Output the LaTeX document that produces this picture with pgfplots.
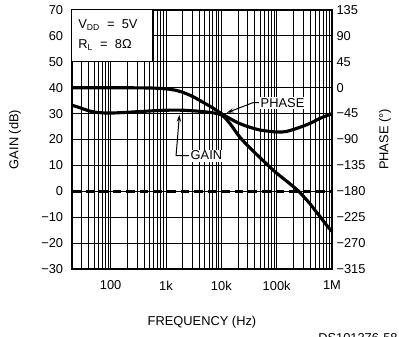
\documentclass[border=0pt]{standalone}
\usepackage{fontspec}
\setmainfont{Liberation Sans}
\usepackage{pgfplots}
\pgfplotsset{compat=1.18}
\usetikzlibrary{arrows.meta}
\pgfplotstableread{
f g
20 33.2
25 32.6
30 32.0
40 31.1
50 30.6
70 30.3
100 30.2
200 30.5
500 31.0
1000 31.3
2000 31.3
4000 30.9
6000 30.5
8000 30.1
10000 29.5
12000 28.1
15000 25.6
20000 21.8
25000 19.4
30000 17.6
40000 15.0
50000 13.0
70000 10.0
100000 7.0
150000 4.0
200000 1.8
250000 0.0
300000 -1.8
400000 -4.8
500000 -7.5
600000 -9.6
700000 -11.5
800000 -13.1
900000 -14.4
1000000 -15.5
}\gaindata
\pgfplotstableread{
f p
20 0
100 0
500 -0.5
1000 -2
1500 -4.5
2000 -8
3000 -15
5000 -27
7000 -35
10000 -45
14000 -53
20000 -61
30000 -67.5
50000 -73.5
100000 -77
150000 -76
250000 -69.5
400000 -62
600000 -53.5
1000000 -45
}\phasedata
\begin{document}
\fontsize{9}{11}\selectfont
\begin{tikzpicture}
\begin{axis}[
  at={(0,0)}, anchor=south west,
  scale only axis, width=182pt, height=181.3pt,
  xmode=log, xmin=20, xmax=1e6,
  major tick length=0pt, minor tick length=0pt,
  axis line style={line width=1pt},
  clip=false,
  ymin=-30, ymax=70,
  ytick={-30,-20,-10,0,10,20,30,40,50,60,70},
  yticklabels={−30,−20,−10,0,10,20,30,40,50,60,70},
  xtick={100,1000,10000,100000,1000000},
  xticklabels={100,1k,10k,100k,1M},
  minor xtick={20,30,40,50,60,70,80,90,200,300,400,500,600,700,800,900,2000,3000,4000,5000,6000,7000,8000,9000,20000,30000,40000,50000,60000,70000,80000,90000,200000,300000,400000,500000,600000,700000,800000,900000},
  xmajorgrids, xminorgrids, ymajorgrids,
  major grid style={black, line width=0.6pt},
  minor grid style={black, line width=0.6pt},
  yticklabel style={xshift=-3pt},
  xticklabel style={yshift=-5pt},
  xlabel={FREQUENCY (Hz)},
  xlabel style={at={(axis description cs:0.5,-0.205)}, anchor=center},
  ylabel={GAIN (dB)},
  ylabel style={at={(axis description cs:-0.219,0.5)}, anchor=center},
]
\addplot[black, line width=2pt, dash pattern=on 6pt off 3.5pt] coordinates {(20,0) (1000000,0)};
\addplot[black, line width=2.2pt, smooth] table[x=f, y=g] {\gaindata};
\draw[black, line width=0.7pt, fill=white] (axis cs:20,50) rectangle (axis cs:570,70);
\node[anchor=west, inner sep=0pt] at (axis cs:25.7,64.2) {V\textsubscript{DD}\ \ =\ \ 5V};
\node[anchor=west, inner sep=0pt] at (axis cs:25.7,56.5) {R\textsubscript{L}\ \ =\ \ 8Ω};
\draw[black, line width=0.7pt, -{Stealth[length=5pt,width=3pt]}] (axis cs:48000,34.2) -- (axis cs:37000,34.2) -- (axis cs:12500,30.3);
\node[anchor=west, fill=white, inner sep=1pt] at (axis cs:48000,34.2) {PHASE};
\draw[black, line width=0.7pt, -{Stealth[length=5pt,width=3pt]}] (axis cs:2600,13.8) -- (axis cs:1520,13.8) -- (axis cs:1750,29.6);
\node[anchor=west, fill=white, inner sep=1pt] at (axis cs:2600,13.8) {GAIN};
\end{axis}
\begin{axis}[
  at={(0,0)}, anchor=south west,
  scale only axis, width=182pt, height=181.3pt,
  xmode=log, xmin=20, xmax=1e6,
  major tick length=0pt, minor tick length=0pt,
  axis line style={line width=1pt},
  clip=false,
  hide x axis,
  axis y line*=right,
  ymin=-315, ymax=135,
  ytick={-315,-270,-225,-180,-135,-90,-45,0,45,90,135},
  yticklabels={−315,−270,−225,−180,−135,−90,−45,0,45,90,135},
  ylabel={PHASE (°)},
  ylabel style={at={(axis description cs:1.204,0.5)}, anchor=center},
]
\addplot[black, line width=2.2pt, smooth] table[x=f, y=p] {\phasedata};
\end{axis}
\node[anchor=north west, inner sep=0pt] at (172.2pt,-44.8pt) {DS101376-58};
\pgfresetboundingbox
\useasboundingbox (-50.4pt,-47.6pt) rectangle (228.9pt,188.3pt);
\end{tikzpicture}
\end{document}
